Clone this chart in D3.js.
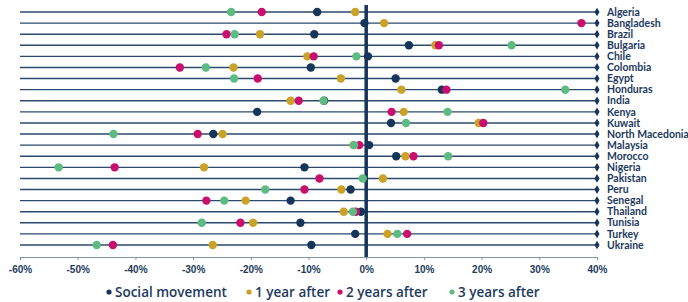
<!DOCTYPE html>
<html lang="en">
<head>
<meta charset="utf-8">
<title>Social movements dot plot</title>
<script src="https://d3js.org/d3.v7.min.js"></script>
<style>
  body { margin: 0; background: #fff; }
  svg { font-family: Lato, "Open Sans", sans-serif; }
  .country { fill: #1d3a5e; font-size: 10.5px; font-weight: 700; }
  .tick text { fill: #1d3a5e; font-size: 10px; font-weight: 700; }
  .legend text { fill: #1d3a5e; font-size: 13.5px; font-weight: 600; font-family: "Open Sans", sans-serif; }
</style>
</head>
<body>
<svg width="688" height="302"></svg>
<script>
// Data (% change)
var countries = ["Algeria", "Bangladesh", "Brazil", "Bulgaria", "Chile", "Colombia", "Egypt",
  "Honduras", "India", "Kenya", "Kuwait", "North Macedonia", "Malaysia", "Morocco", "Nigeria",
  "Pakistan", "Peru", "Senegal", "Thailand", "Tunisia", "Turkey", "Ukraine"];

var socialMovement = [-8.5, -0.3, -9.0, 7.4, 0.3, -9.6, 5.1, 13.1, -7.3, -18.9, 4.3, -26.5, 0.5, 5.2, -10.7, null, -2.7, -13.1, -0.9, -11.4, -1.9, -9.5];
var oneYear        = [-1.9, 3.1, -18.4, 12.0, -10.2, -23.0, -4.4, 6.1, -13.1, 6.5, 19.5, -24.9, -2.2, 6.8, -28.1, 2.9, -4.3, -20.9, -3.9, -19.6, 3.7, -26.6];
var twoYears       = [-18.1, 37.3, -24.2, 12.6, -9.1, -32.3, -18.8, 13.9, -11.7, 4.4, 20.3, -29.2, -1.2, 8.2, -43.6, -8.1, -10.7, -27.7, -1.8, -21.8, 7.1, -43.9];
var threeYears     = [-23.4, null, -22.8, 25.2, -1.7, -27.8, -22.9, 34.5, -7.4, 14.1, 6.9, -43.8, -2.1, 14.2, -53.3, -0.6, -17.5, -24.6, -2.3, -28.5, 5.4, -46.7];

var seriesNames = ["Social movement", "1 year after", "2 years after", "3 years after"];
var seriesColors = ["#15355a", "#c9a227", "#c90f6d", "#5dba80"];
var xTicks = [-60, -50, -40, -30, -20, -10, 0, 10, 20, 30, 40];

var svg = d3.select("svg");

var x = d3.scaleLinear().domain([-60, 40]).range([20, 597]);
var y = d3.scalePoint().domain(countries).range([12, 245]);

// row lines
svg.append("g").selectAll("line")
  .data(countries)
  .enter().append("line")
    .attr("x1", x(-60)).attr("x2", x(40))
    .attr("y1", function(d) { return y(d); })
    .attr("y2", function(d) { return y(d); })
    .attr("stroke", "#2b4a6d")
    .attr("stroke-width", 1.4);

// diamonds at line ends
svg.append("g").selectAll("path")
  .data(countries)
  .enter().append("path")
    .attr("d", d3.symbol().type(d3.symbolDiamond).size(22))
    .attr("transform", function(d) { return "translate(" + x(40) + "," + y(d) + ")"; })
    .attr("fill", "#15355a");

// country labels
svg.append("g").selectAll("text")
  .data(countries)
  .enter().append("text")
    .attr("class", "country")
    .attr("x", 607)
    .attr("y", function(d) { return y(d); })
    .attr("dy", "0.35em")
    .text(function(d) { return d; });

// x axis
var axis = svg.append("g")
  .attr("transform", "translate(0,257)")
  .call(d3.axisBottom(x).tickValues(xTicks).tickSize(3).tickPadding(6)
    .tickFormat(function(d) { return d + "%"; }));
axis.select(".domain").attr("stroke", "#8296aa").attr("stroke-width", 1.2);
axis.selectAll(".tick line").attr("stroke", "#8296aa");

// zero line
svg.append("line")
  .attr("x1", x(0)).attr("x2", x(0))
  .attr("y1", 5).attr("y2", 257)
  .attr("stroke", "#15355a")
  .attr("stroke-width", 3.5);

// dots
var allSeries = [socialMovement, oneYear, twoYears, threeYears];
allSeries.forEach(function(vals, i) {
  svg.append("g").selectAll("circle")
    .data(vals.map(function(v, j) { return { c: countries[j], v: v }; })
      .filter(function(d) { return d.v !== null; }))
    .enter().append("circle")
      .attr("cx", function(d) { return x(d.v); })
      .attr("cy", function(d) { return y(d.c); })
      .attr("r", 4.2)
      .attr("fill", seriesColors[i]);
});

// legend
var legendX = [109, 249, 340, 452];
var legend = svg.append("g").attr("class", "legend");
seriesNames.forEach(function(name, i) {
  legend.append("circle")
    .attr("cx", legendX[i]).attr("cy", 292).attr("r", 2.6)
    .attr("fill", seriesColors[i]);
  legend.append("text")
    .attr("x", legendX[i] + 6).attr("y", 292).attr("dy", "0.35em")
    .text(name);
});
</script>
</body>
</html>
